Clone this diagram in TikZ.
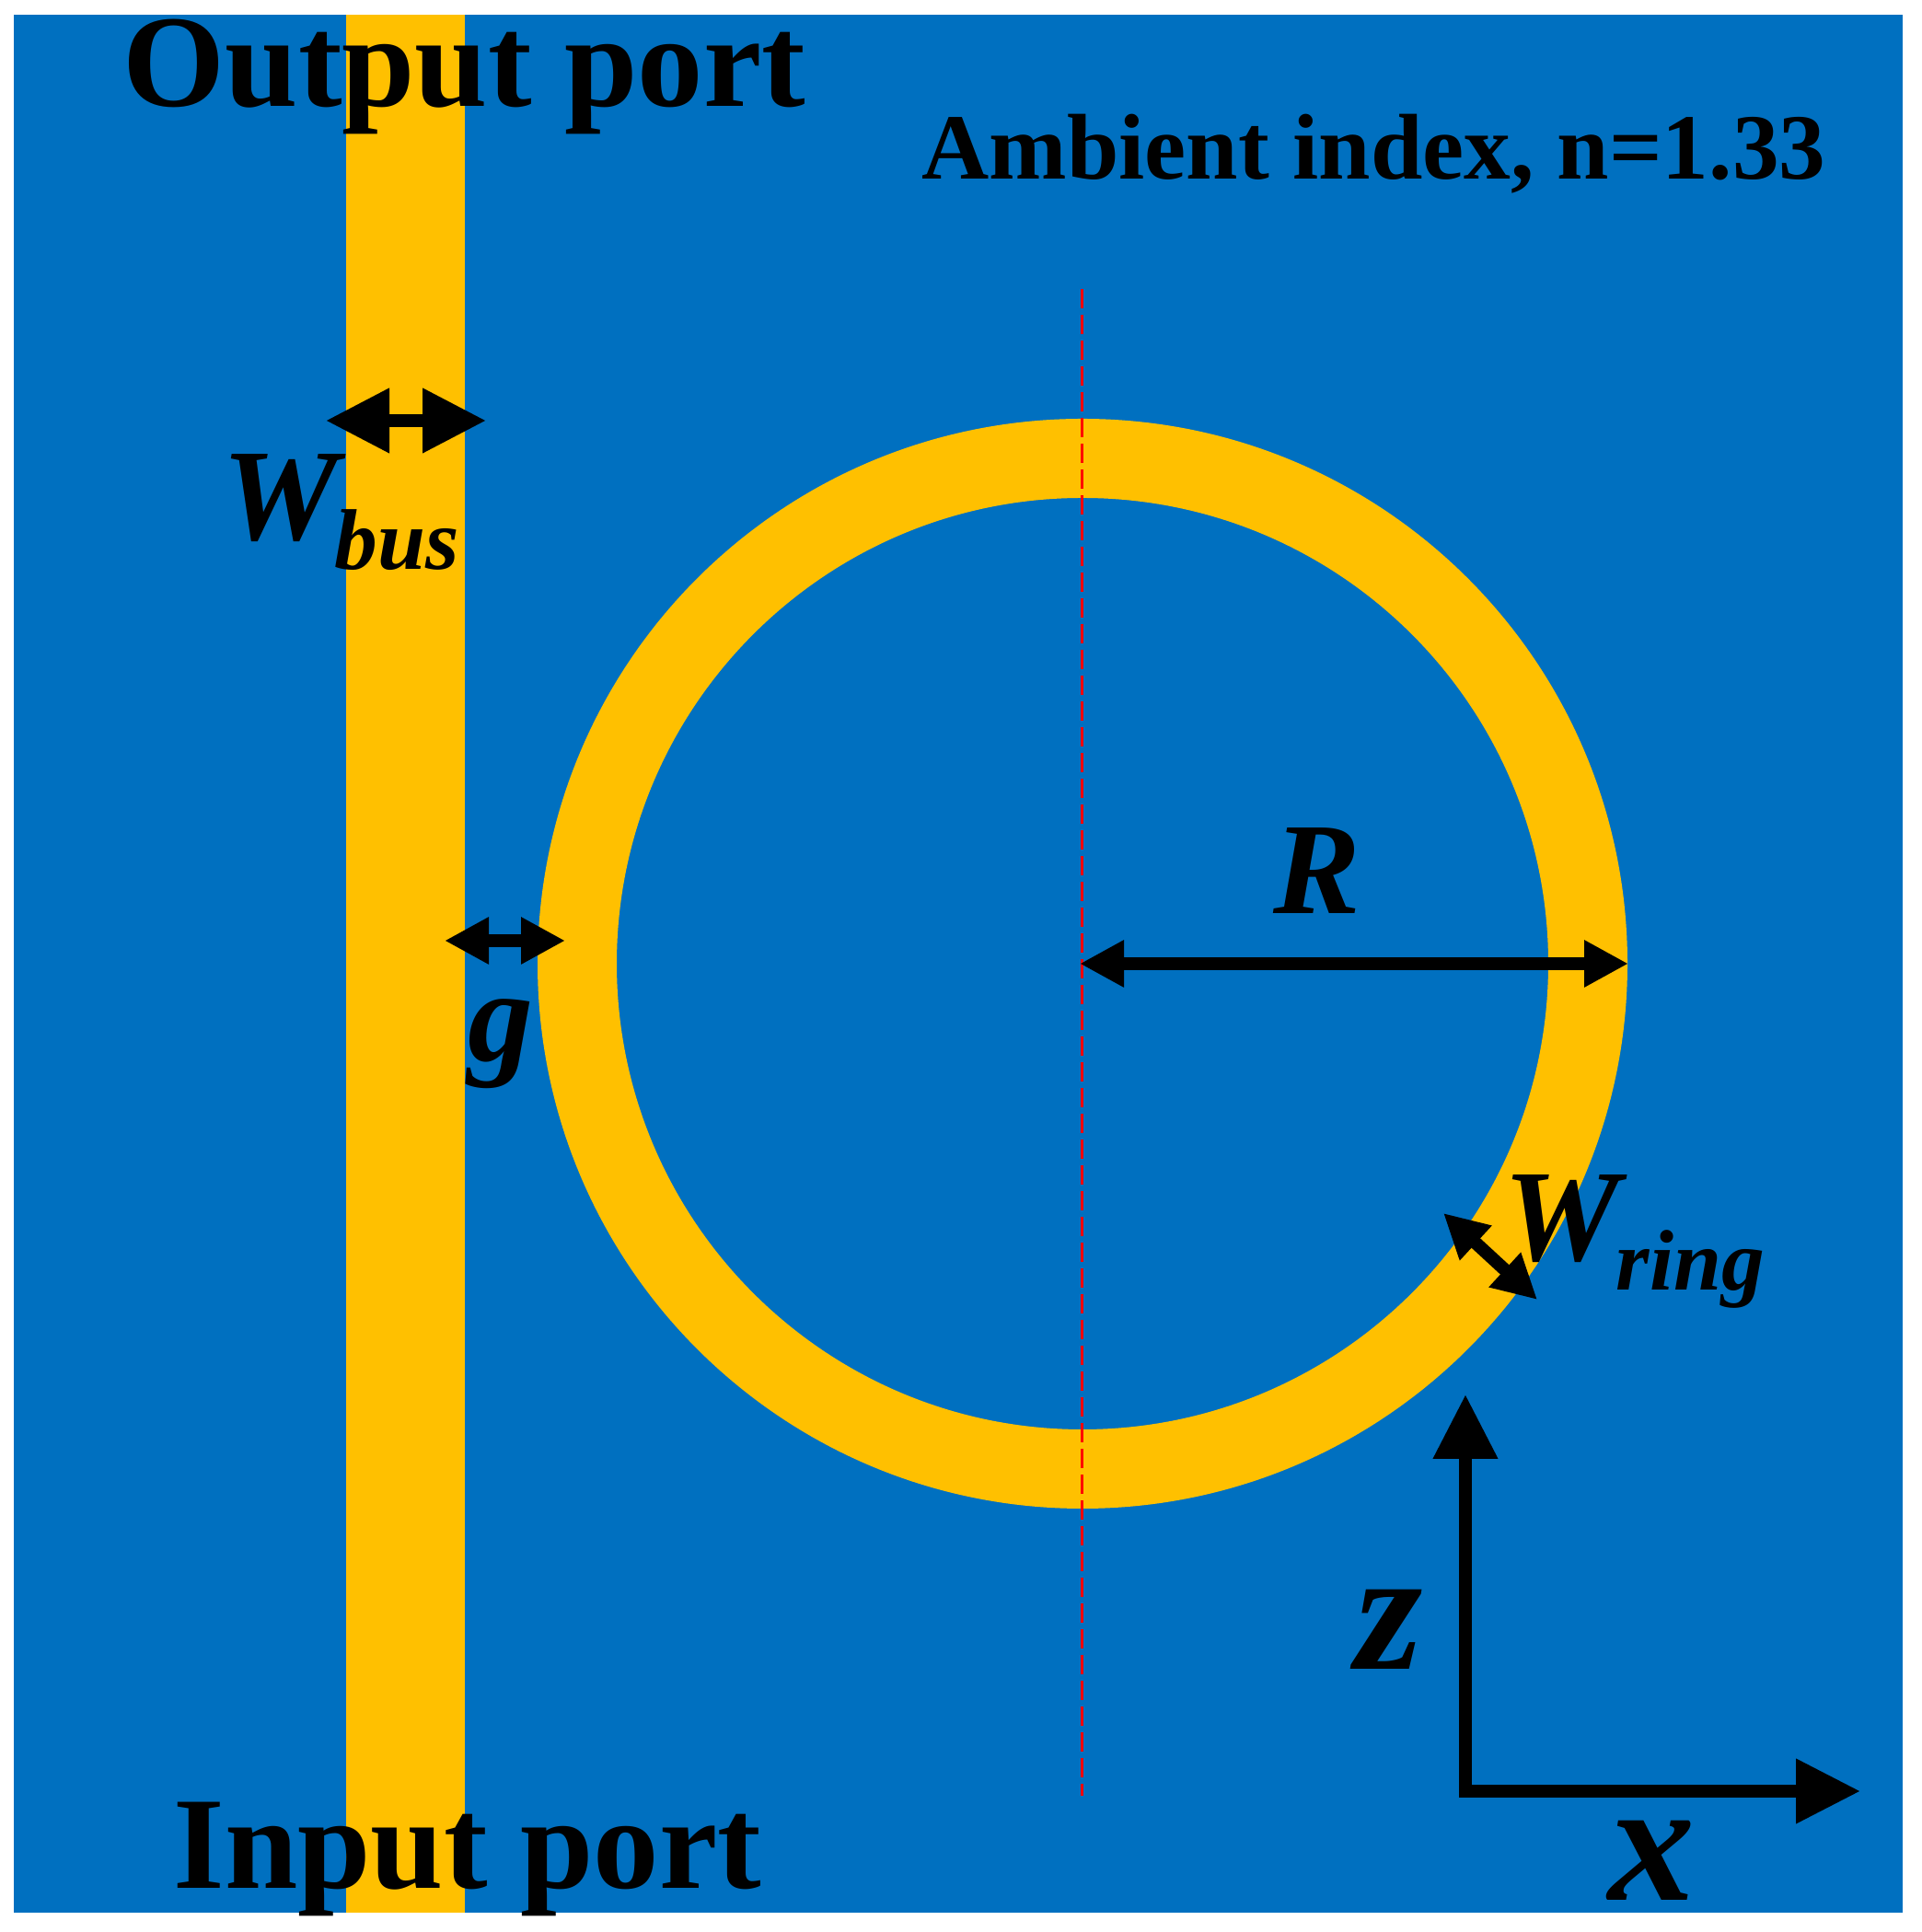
\documentclass[tikz,border=0pt]{standalone}
\usepackage{fontspec}
\setmainfont{Liberation Serif}
\usetikzlibrary{arrows.meta}
\definecolor{ambientblue}{HTML}{0070C0}
\definecolor{coregold}{HTML}{FFC000}
\tikzset{
    portlabel/.style={anchor=base west,inner sep=0pt,font=\fontsize{40.6}{40.6}\selectfont\bfseries},
    ambientlabel/.style={anchor=base west,inner sep=0pt,font=\fontsize{28.85}{28.85}\selectfont\bfseries},
    symlabel/.style={anchor=base west,inner sep=0pt,font=\fontsize{40.4}{40.4}\selectfont\bfseries\itshape},
    sublabel/.style={anchor=base west,inner sep=0pt,font=\fontsize{26.6}{26.6}\selectfont\bfseries\itshape},
    axislabel/.style={anchor=base west,inner sep=0pt,font=\fontsize{53.5}{53.5}\selectfont\bfseries\itshape},
    dimbig/.style={{Triangle[length=0.69cm,width=0.67cm]}-{Triangle[length=0.69cm,width=0.67cm]},line width=0.14cm},
    dimmid/.style={{Triangle[length=0.48cm,width=0.48cm]}-{Triangle[length=0.48cm,width=0.48cm]},line width=0.14cm},
    axisline/.style={-{Triangle[length=0.70cm,width=0.67cm]},line width=0.14cm,line cap=rect},
}
\begin{document}
\begin{tikzpicture}
    \useasboundingbox (0,0) rectangle (20.88,20.99);
    %Cladding
    \fill[ambientblue] (0.15,0.21) rectangle (20.67,20.83);
    %Bus waveguide
    \fill[coregold] (3.76,0.21) rectangle (5.05,20.83);
    %Ring
    \fill[coregold,even odd rule] (11.76,10.52) circle (5.92cm) (11.76,10.52) circle (5.06cm);
    %Center line
    \coordinate (lineTop) at (11.75,17.85);
    \coordinate (lineBot) at (11.75,1.48);
    \draw[red,line width=0.03cm,dash pattern=on 0.21cm off 0.07cm] (lineTop) -- (lineBot);
    %Arrows
    \coordinate (busL) at (3.54,16.42);
    \coordinate (busR) at (5.28,16.42);
    \draw[dimbig] (busL) -- (busR);
    \coordinate (gapL) at (4.83,10.77);
    \coordinate (gapR) at (6.14,10.77);
    \draw[dimmid] (gapL) -- (gapR);
    \coordinate (radC) at (11.73,10.52);
    \coordinate (radE) at (17.69,10.52);
    \draw[dimmid] (radC) -- (radE);
    \coordinate (ringA) at (15.68,7.81);
    \coordinate (ringB) at (16.70,6.87);
    \draw[dimmid] (ringA) -- (ringB);
    %Axes
    \coordinate (axisO) at (15.92,1.53);
    \coordinate (axisZ) at (15.92,5.84);
    \coordinate (axisX) at (20.21,1.53);
    \draw[axisline] (axisO) -- (axisZ);
    \draw[axisline] (axisO) -- (axisX);
    %Labels
    \node[portlabel] (outlabel) at (1.33,19.83) {Output port};
    \node[portlabel] (inlabel) at (1.88,0.47) {Input port};
    \node[ambientlabel] (indexlabel) at (10.01,19.04) {Ambient index, n=1.33};
    \node[symlabel] (wbus) at (2.41,15.12) {W};
    \node[sublabel] (bus) at (3.63,14.80) {bus};
    \node[symlabel] (gaplabel) at (5.08,9.46) {g};
    \node[symlabel] (rlabel) at (13.83,11.06) {R};
    \node[symlabel] (wring) at (16.33,7.29) {W};
    \node[sublabel] (ring) at (17.55,6.97) {ring};
    \node[axislabel] (zlabel) at (14.72,2.85) {z};
    \node[axislabel] (xlabel) at (17.47,0.34) {x};
\end{tikzpicture}
\end{document}
